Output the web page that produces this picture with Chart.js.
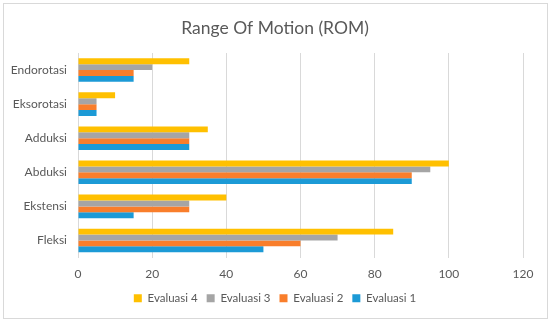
<!DOCTYPE html>
<html>
<head>
<meta charset="utf-8">
<script src="https://cdn.jsdelivr.net/npm/chart.js@4/dist/chart.umd.min.js"></script>
<style>
  html, body { margin: 0; padding: 0; background: #fff; }
  #wrap { position: relative; width: 550px; height: 322px; }
  #frame { position: absolute; left: 3px; top: 3px; width: 543px; height: 314px; border: 1px solid #d9d9d9; pointer-events: none; }
  canvas { position: absolute; left: 0; top: 0; }
</style>
</head>
<body>
<div id="wrap">
  <canvas id="c" width="550" height="322"></canvas>
  <div id="frame"></div>
</div>
<script>
const categories = ['Endorotasi', 'Eksorotasi', 'Adduksi', 'Abduksi', 'Ekstensi', 'Fleksi'];
const evaluasi4 = [30, 10, 35, 100, 40, 85];
const evaluasi3 = [20, 5, 30, 95, 30, 70];
const evaluasi2 = [15, 5, 30, 90, 30, 60];
const evaluasi1 = [15, 5, 30, 90, 15, 50];
const xTicks = [0, 20, 40, 60, 80, 100, 120];

const FONT = "Lato, 'Open Sans', sans-serif";
const TXT = '#595959';

new Chart(document.getElementById('c'), {
  type: 'bar',
  data: {
    labels: categories,
    datasets: [
      { label: 'Evaluasi 4', data: evaluasi4, backgroundColor: '#FFC000' },
      { label: 'Evaluasi 3', data: evaluasi3, backgroundColor: '#A5A5A5' },
      { label: 'Evaluasi 2', data: evaluasi2, backgroundColor: '#F97E2B' },
      { label: 'Evaluasi 1', data: evaluasi1, backgroundColor: '#1C9AD6' }
    ]
  },
  options: {
    indexAxis: 'y',
    responsive: false,
    animation: false,
    devicePixelRatio: 1,
    datasets: { bar: { categoryPercentage: 0.69, barPercentage: 1.0, borderWidth: 0 } },
    layout: { padding: { left: 4, right: 4, top: 0, bottom: 8 } },
    plugins: {
      tooltip: { enabled: false },
      title: {
        display: true,
        text: 'Range Of Motion (ROM)',
        color: TXT,
        font: { family: FONT, size: 17.5, weight: 'normal' },
        padding: { top: 18, bottom: 14 }
      },
      legend: {
        position: 'bottom',
        labels: {
          color: TXT,
          font: { family: FONT, size: 11.5 },
          boxWidth: 8,
          boxHeight: 8,
          padding: 9
        }
      }
    },
    scales: {
      x: {
        min: 0,
        max: 120,
        afterBuildTicks: (s) => { s.ticks = xTicks.map(v => ({ value: v })); },
        afterFit: (s) => { s.height = 26; },
        grid: { color: '#d9d9d9', drawTicks: false, lineWidth: 1 },
        border: { display: false },
        ticks: { color: TXT, font: { family: FONT, size: 12 }, padding: 9 }
      },
      y: {
        afterFit: (s) => { s.width = 74; },
        grid: { display: false, drawTicks: false },
        border: { display: false },
        ticks: { color: TXT, font: { family: FONT, size: 12 }, padding: 11 }
      },
      y2: {
        type: 'category',
        position: 'right',
        display: true,
        afterFit: (s) => { s.width = 23; },
        grid: { display: false, drawTicks: false },
        border: { display: false },
        ticks: { display: false }
      }
    }
  }
});
</script>
</body>
</html>
